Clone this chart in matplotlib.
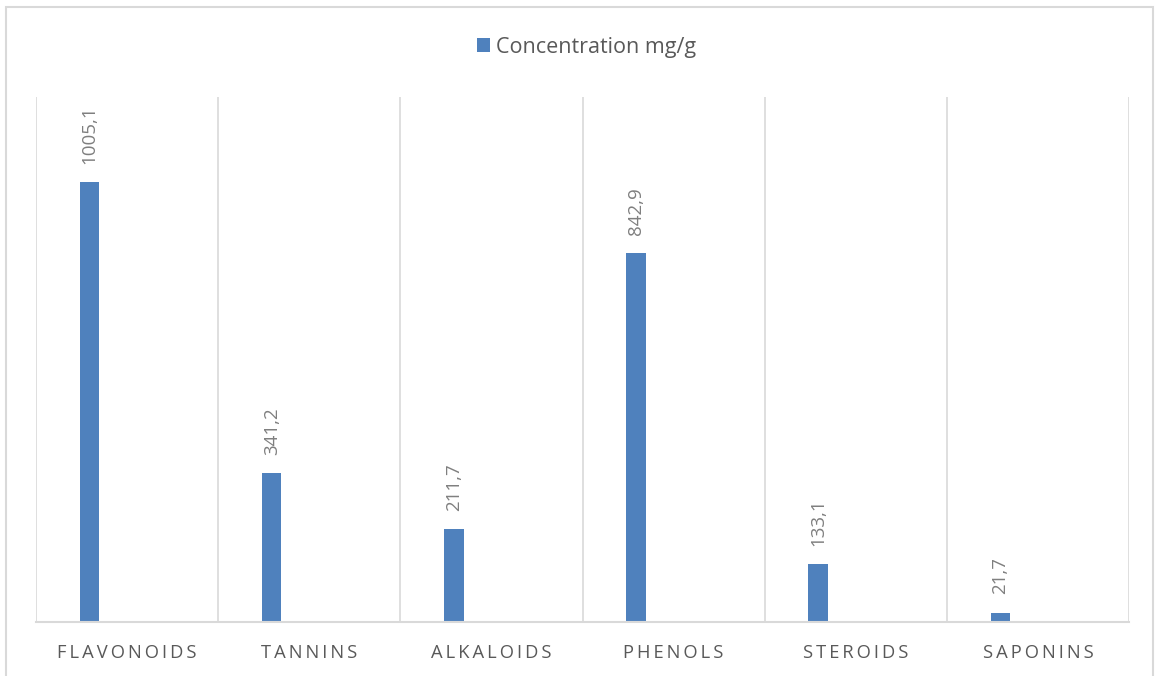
import matplotlib.pyplot as plt
from matplotlib.patches import Rectangle
import numpy as np

categories = ["FLAVONOIDS", "TANNINS", "ALKALOIDS", "PHENOLS", "STEROIDS", "SAPONINS"]
values = [1005.1, 341.2, 211.7, 842.9, 133.1, 21.7]
series_name = "Concentration mg/g"

plt.rcParams['font.family'] = ['Open Sans', 'DejaVu Sans']

fig = plt.figure(figsize=(11.59, 6.76), dpi=100)
ax = fig.add_axes([36/1159, 54/676, 1093/1159, 525/676])

# outer chart border
fig.patches.append(Rectangle((6/1159, -0.01), 1147/1159, 1.01 - 7/676,
                             transform=fig.transFigure, fill=False,
                             edgecolor='#d9d9d9', linewidth=1.5))

x = np.arange(len(categories))
bars = ax.bar(x + 0.294, values, width=0.107, color='#4f81bd', label=series_name)

for xi, v in zip(x, values):
    ax.annotate(f"{v:.1f}".replace('.', ','), (xi + 0.294, v),
                xytext=(0, 13), textcoords='offset points',
                rotation=90, ha='center', va='bottom',
                fontsize=13.5, color='#7f7f7f')

ax.set_xlim(0, len(categories))
ax.set_ylim(0, 1200)
for gx in range(len(categories) + 1):
    ax.axvline(gx, color='#d9d9d9', linewidth=1.2, zorder=0)

for s in ['top', 'right', 'left']:
    ax.spines[s].set_visible(False)
ax.spines['bottom'].set_color('#d9d9d9')
ax.spines['bottom'].set_linewidth(1.5)

ax.set_yticks([])
ax.set_xticks(x + 0.5)
ax.set_xticklabels(["\u2009".join(c) for c in categories],
                   fontsize=13.2, color='#595959')
ax.tick_params(axis='x', length=0, pad=16)

leg = fig.legend(handles=[bars], labels=[series_name], loc='center',
                 bbox_to_anchor=(0.506, 1 - 47/676), frameon=False,
                 fontsize=15.5, handlelength=0.6, handleheight=0.6,
                 handletextpad=0.25, labelcolor='#595959')

fig.savefig('out.png', dpi=100)
